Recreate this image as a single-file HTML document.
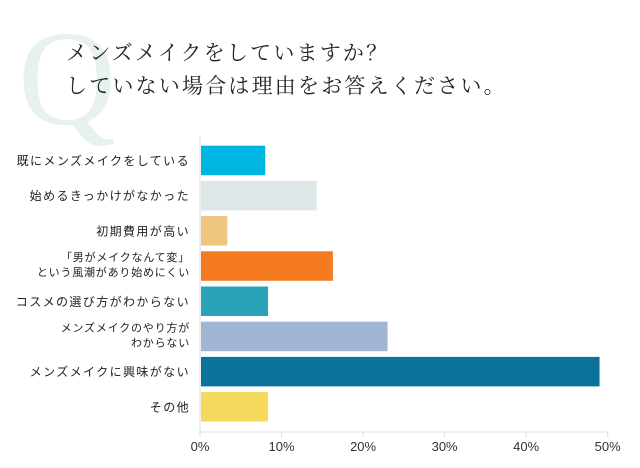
<!DOCTYPE html>
<html><head><meta charset="utf-8"><style>
body{margin:0;background:#fff;width:640px;height:468px;overflow:hidden}
svg{display:block}
</style></head><body>
<svg id="chart" width="640" height="468" xmlns="http://www.w3.org/2000/svg">
<text x="18" y="124" font-family="Liberation Serif, serif" font-size="136" fill="#e7f1f0">Q</text>
<text x="66" y="60" font-family="Liberation Serif, 'Noto Serif CJK SC', serif" font-size="21" letter-spacing="2.2" fill="#222">メンズメイクをしていますか？</text>
<text x="66" y="93" font-family="Liberation Serif, 'Noto Serif CJK SC', serif" font-size="21" letter-spacing="2.2" fill="#222">していない場合は理由をお答えください。</text>
<g id="plot"></g>
</svg>
<script>
const categories=[["既にメンズメイクをしている"],["始めるきっかけがなかった"],["初期費用が高い"],["「男がメイクなんて変」","という風潮があり始めにくい"],["コスメの選び方がわからない"],["メンズメイクのやり方が","わからない"],["メンズメイクに興味がない"],["その他"]];
const values=[8.0,14.3,3.35,16.3,8.35,23.0,49.0,8.35];
const colors=["#00b5e2","#dde7e8","#efc57f","#f47b20","#2aa3b8","#9fb5d2","#0b7399","#f5d95c"];
const ticks=[0,10,20,30,40,50];
const NS="http://www.w3.org/2000/svg";
const g=document.getElementById('plot');
const x0=200,x1=607.7,yTop=145.7,step=35.2,bh=29.5,base=432;
const xs=v=>x0+(v/50)*(x1-x0);
const yb=i=>yTop+i*step;
function mk(t,a){const e=document.createElementNS(NS,t);for(const k in a)e.setAttribute(k,a[k]);g.appendChild(e);return e;}
let l=mk('line',{x1:x0,y1:137,x2:x0,y2:base,stroke:'#ddd','stroke-width':1});


l=mk('line',{x1:x0,y1:base,x2:x1,y2:base,stroke:'#ddd','stroke-width':1});


ticks.forEach(t=>{
 const tk=mk('line',{x1:xs(t),y1:base,x2:xs(t),y2:base+5,stroke:'#ddd'});
 
 
 const tx=mk('text',{x:xs(t),y:451,'text-anchor':'middle','font-family':'Liberation Sans, sans-serif','font-size':13,fill:'#333'});
 tx.textContent=t+'%';
 
 
});
values.forEach((v,i)=>{
 const r=mk('rect',{x:x0+1,y:yb(i),width:xs(v)-x0-1,height:bh,fill:colors[i]});
 
 
 const c=categories[i],cy=yb(i)+bh/2;
 c.forEach((s,j)=>{
  const two=c.length>1;
  const y=two?cy-6+j*15:cy+4.5;
  const t=mk('text',{x:190,y:two?y+1:y,'text-anchor':'end','font-family':"Liberation Sans, 'Noto Sans CJK JP', sans-serif",'font-size':two?11:12,'letter-spacing':two?0.8:1.4,fill:'#222'});
  t.textContent=s;
  
  
 });
});
</script>
</body></html>
